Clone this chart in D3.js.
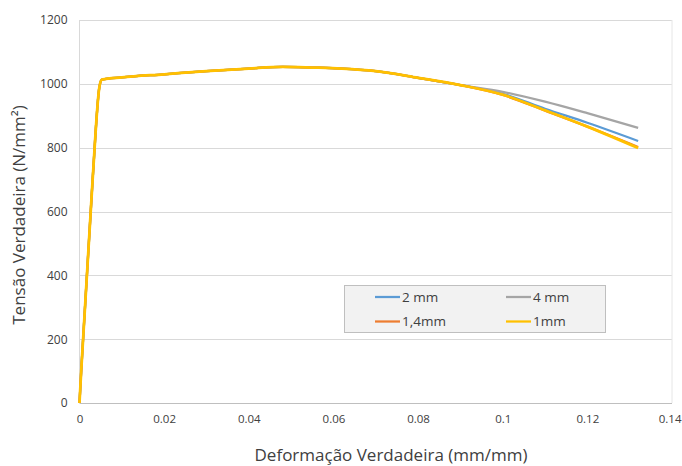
<!DOCTYPE html>
<html>
<head>
<meta charset="utf-8">
<script src="https://cdn.jsdelivr.net/npm/d3@7"></script>
<style>
  body { margin: 0; background: #fff; }
  text { font-family: "Open Sans", "Noto Sans", sans-serif; fill: #404040; }
</style>
</head>
<body>
<svg class="chart"></svg>
<script>
// dados
var strain = [0, 0.0004, 0.0031, 0.0047, 0.0053, 0.01, 0.02, 0.03, 0.04, 0.048, 0.055, 0.062, 0.07, 0.08, 0.09, 0.1, 0.11, 0.12, 0.132];
var base = [0, 100, 700, 990, 1013, 1020, 1030, 1040, 1048, 1053, 1051, 1048, 1040, 1019, 996];
var s2mm  = base.concat([969, 922, 878, 821]);
var s4mm  = base.concat([975, 944, 908, 862]);
var s14mm = base.concat([965, 916, 866, 802]);
var s1mm  = base.concat([966, 917, 866, 799]);

var seriesNames  = ["2 mm", "4 mm", "1,4mm", "1mm"];
var seriesValues = [s2mm, s4mm, s14mm, s1mm];
var seriesColors = ["#5B9BD5", "#A5A5A5", "#ED7D31", "#FFC000"];

var xTicks = [0, 0.02, 0.04, 0.06, 0.08, 0.1, 0.12, 0.14];
var yTicks = [0, 200, 400, 600, 800, 1000, 1200];

var width = 682, height = 466;

var svg = d3.select(".chart")
   .attr("width", width)
   .attr("height", height);

var x = d3.scaleLinear().domain([0, 0.14]).range([79.5, 672]);
var y = d3.scaleLinear().domain([0, 1200]).range([403, 20]);

// linhas de grade
svg.append("g").selectAll("line")
   .data(yTicks)
   .enter().append("line")
   .attr("x1", x(0)).attr("x2", x(0.14))
   .attr("y1", function(d) { return Math.round(y(d)) + 0.5; })
   .attr("y2", function(d) { return Math.round(y(d)) + 0.5; })
   .style("stroke", function(d) { return d === 0 ? "#bfbfbf" : "#d9d9d9"; })
   .style("stroke-width", 1);

// bordas verticais
svg.append("line")
   .attr("x1", x(0)).attr("x2", x(0))
   .attr("y1", y(1200)).attr("y2", y(0))
   .style("stroke", "#d9d9d9");
svg.append("line")
   .attr("x1", x(0.14)).attr("x2", x(0.14))
   .attr("y1", y(1200)).attr("y2", y(0))
   .style("stroke", "#e6e6e6");

// rótulos dos eixos
var xAxis = d3.axisBottom(x).tickValues(xTicks).tickSize(0).tickPadding(12)
   .tickFormat(function(d) { return String(+d.toFixed(2)); });
var xAxisG = svg.append("g")
   .attr("transform", "translate(0," + y(0) + ")")
   .call(xAxis);
xAxisG.select(".domain").remove();
xAxisG.selectAll("text").style("font-size", "11.5px").style("fill", "#404040")
   .style("font-family", "'Open Sans', sans-serif");
xAxisG.selectAll("text").filter(function(d) { return d === 0.14; })
   .attr("text-anchor", "end").attr("x", 9);

var yAxis = d3.axisLeft(y).tickValues(yTicks).tickSize(0).tickPadding(12)
   .tickFormat(d3.format("d"));
var yAxisG = svg.append("g")
   .attr("transform", "translate(" + x(0) + ",0)")
   .call(yAxis);
yAxisG.select(".domain").remove();
yAxisG.selectAll("text").style("font-size", "12px").style("fill", "#404040")
   .style("font-family", "'Open Sans', sans-serif");

// curvas
var line = d3.line()
   .x(function(d, i) { return x(strain[i]); })
   .y(function(d) { return y(d); })
   .curve(d3.curveMonotoneX);

svg.append("g").selectAll("path")
   .data(seriesValues)
   .enter().append("path")
   .attr("d", line)
   .style("fill", "none")
   .style("stroke", function(d, i) { return seriesColors[i]; })
   .style("stroke-width", function(d, i) { return i === 3 ? 2.75 : 2.25; })
   .style("stroke-linejoin", "round");

// títulos dos eixos
svg.append("text")
   .attr("x", 391).attr("y", 461)
   .attr("text-anchor", "middle")
   .style("font-size", "17px")
   .text("Deformação Verdadeira (mm/mm)");

svg.append("text")
   .attr("transform", "translate(25,215) rotate(-90)")
   .attr("text-anchor", "middle")
   .style("font-size", "17px")
   .text("Tensão Verdadeira (N/mm²)");

// legenda
var legend = svg.append("g");
legend.append("rect")
   .attr("x", 344.5).attr("y", 285.5)
   .attr("width", 261).attr("height", 47)
   .style("fill", "#f2f2f2")
   .style("stroke", "#bfbfbf");

var legendX = [375, 506], legendY = [297, 321.5];
var item = legend.selectAll(".item")
   .data(seriesNames)
   .enter().append("g")
   .attr("transform", function(d, i) {
      return "translate(" + legendX[i % 2] + "," + legendY[Math.floor(i / 2)] + ")";
   });
item.append("line")
   .attr("x1", 0).attr("x2", 25)
   .style("stroke", function(d, i) { return seriesColors[i]; })
   .style("stroke-width", 2.25);
item.append("text")
   .attr("x", 27).attr("dy", "0.35em")
   .style("font-size", "13.5px")
   .text(function(d) { return d; });
</script>
</body>
</html>
